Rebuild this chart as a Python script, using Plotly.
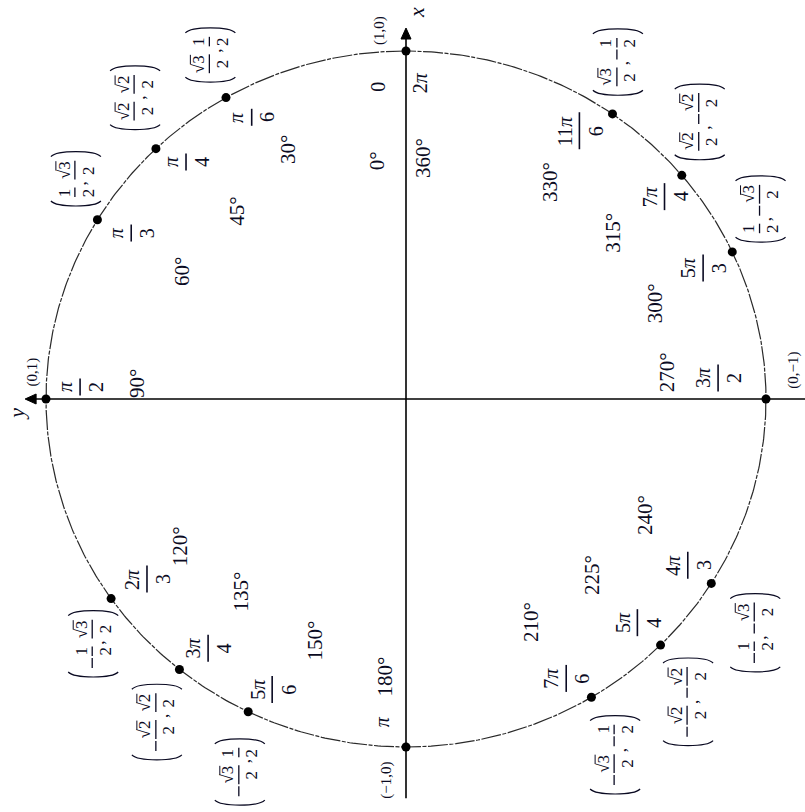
import math
import plotly.graph_objects as go

# ---------------- data ----------------
degrees = [0, 30, 45, 60, 90, 120, 135, 150, 180, 210, 225, 240, 270, 300, 315, 330]
# angle (deg) at which each point is actually drawn in the reference figure
drawn_angles = [0, 30, 44, 59, 90, 125, 141, 154, 180, 211, 225, 238, 270, 295, 310, 325]
radian_num = ["0", "π", "π", "π", "π", "2π", "3π", "5π", "π", "7π", "5π", "4π", "3π", "5π", "7π", "11π"]
radian_den = ["", "6", "4", "3", "2", "3", "4", "6", "", "6", "4", "3", "2", "3", "4", "6"]
cos_vals = ["1", "√3/2", "√2/2", "1/2", "0", "−1/2", "−√2/2", "−√3/2",
            "−1", "−√3/2", "−√2/2", "−1/2", "0", "1/2", "√2/2", "√3/2"]
sin_vals = ["0", "1/2", "√2/2", "√3/2", "1", "√3/2", "√2/2", "1/2",
            "0", "−1/2", "−√2/2", "−√3/2", "−1", "−√3/2", "−√2/2", "−1/2"]
full_turn_radian = "2π"
full_turn_degree = "360°"
axis_names = ["x", "y"]

# ---------------- layout / style ----------------
# label placement (radius, angle in deg) relative to the circle
RAD_PLACE = [(0.90, 5), (0.916, 27.9), (0.915, 41.9), (0.90, 58), (0.906, 87.8), (0.886, 125.7),
             (0.903, 142.5), (0.914, 156), (0.93, 175.8), (0.918, 209), (0.909, 225), (0.917, 238.6),
             (0.869, 274), (0.907, 294.5), (0.924, 309), (0.909, 328)]
RAD_FULL_PLACE = (0.909, -2.5)
DEG_PLACE = [(0.69, 6.5), (0.787, 24.6), (0.714, 41.1), (0.723, 59.4), (0.749, 86.5), (0.758, 124),
             (0.72, 140.2), (0.738, 160), (0.80, 175.8), (0.729, 208.4), (0.723, 225.6), (0.743, 243.4),
             (0.731, 276), (0.744, 291.7), (0.747, 309.7), (0.741, 327.3)]
DEG_FULL_PLACE = (0.694, -3.9)
COORD_PLACE = [(1.063, 3.9), (1.128, 28.8), (1.147, 41), (1.114, 55.4), (1.04, 85.7), (1.118, 129),
               (1.158, 143.3), (1.167, 156.7), (1.096, 177.2), (1.176, 209.6), (1.171, 222), (1.18, 235.3),
               (1.08, 274.4), (1.126, 299), (1.14, 314.3), (1.133, 328.7)]
AXIS_TOP, AXIS_BOTTOM, AXIS_LEFT, AXIS_RIGHT = 1.066, -1.147, -1.058, 1.12

W, H = 805, 812
CX, CY, RX, RY = 406, 399, 360, 348   # pixel centre and radii of the circle
FONT = "Liberation Serif"
INK = "#0a0a22"

annotations = []
shapes = []


def polar(r, a):
    t = math.radians(a)
    return -r * math.sin(t), r * math.cos(t)


def text(x, y, s, size, u=0, v=0, italic=False):
    if italic:
        s = "<i>" + s + "</i>"
    annotations.append(dict(x=x, y=y, xref="x", yref="y", text=s, showarrow=False,
                            textangle=-90, xanchor="center", yanchor="middle",
                            xshift=v, yshift=u, borderpad=0,
                            font=dict(family=FONT, size=size, color=INK)))


def bar(x, y, u, v, length, width=1.3):
    shapes.append(dict(type="line", xref="x", yref="y", xsizemode="pixel", ysizemode="pixel",
                       xanchor=x, yanchor=y, x0=v, x1=v, y0=u - length / 2, y1=u + length / 2,
                       line=dict(color=INK, width=width)))


def paren(x, y, u_tip, direction, v0=-25, v1=25, depth=5):
    # direction=-1: opening paren (bulges down); +1: closing paren (bulges up)
    e = u_tip - direction * depth
    m = u_tip - direction * depth / 3.0
    vm = (v0 + v1) / 2
    p = (f"M {v0},{e} C {vm + (v0 - vm) * 0.75},{m + direction * depth * 0.66} "
         f"{vm + (v1 - vm) * 0.75},{m + direction * depth * 0.66} {v1},{e}")
    shapes.append(dict(type="path", xref="x", yref="y", xsizemode="pixel", ysizemode="pixel",
                       xanchor=x, yanchor=y, path=p, line=dict(color=INK, width=1.2)))


EMW = {"√": 0.55, "π": 0.55, "−": 0.56, ",": 0.25, "(": 0.33, ")": 0.33}


def tw(s, f):
    return sum(EMW.get(c, 0.5) for c in s) * f


def pi_html(s):
    return s.replace("π", "<i>π</i>")


def radian_label(x, y, num, den, f=20):
    if den == "":
        text(x, y, pi_html(num), f)
        return
    L = max(tw(num, f), tw(den, f)) + 6
    text(x, y, pi_html(num), f, v=-15)
    text(x, y, den, f, v=16)
    bar(x, y, 0, 0, L, width=1.6)


def parse(s):
    neg = s.startswith("−")
    b = s[1:] if neg else s
    if "/" in b:
        n, d = b.split("/")
    else:
        n, d = b, None
    return neg, n, d


def coord_label(x, y, cs, sn, f=17):
    if "/" not in cs and "/" not in sn:
        text(x, y, f"({cs},{sn})", 15)
        return
    seq = [("lp", 8)]
    for i, s in enumerate((cs, sn)):
        neg, n, d = parse(s)
        if neg:
            seq.append(("minus", 12))
        if d is None:
            seq.append(("int", n, tw(n, f) + 3))
        else:
            seq.append(("frac", n, d, max(tw(n, f), tw(d, f)) + 3))
        if i == 0:
            seq.append(("comma", 6))
    seq.append(("rp", 8))
    L = sum(it[-1] for it in seq)
    u = -L / 2
    for it in seq:
        w = it[-1]
        c = u + w / 2
        k = it[0]
        if k == "lp":
            paren(x, y, u, -1)
        elif k == "rp":
            paren(x, y, u + w, 1)
        elif k == "minus":
            bar(x, y, c, -1, 10, width=1.3)
        elif k == "comma":
            text(x, y, ",", f, u=c, v=5)
        elif k == "int":
            text(x, y, it[1], f, u=c, v=-1)
        elif k == "frac":
            text(x, y, it[1], f, u=c, v=-12)
            text(x, y, it[2], f, u=c, v=12)
            bar(x, y, c, -1, w - 2, width=1.3)
            if it[1].startswith("√"):
                # vinculum over the radicand
                nw = tw(it[1], f)
                u0 = c - nw / 2 + 0.5 * f
                u1 = c + nw / 2
                shapes.append(dict(type="line", xref="x", yref="y", xsizemode="pixel",
                                   ysizemode="pixel", xanchor=x, yanchor=y,
                                   x0=-20, x1=-20, y0=u0, y1=u1,
                                   line=dict(color=INK, width=1)))
        u += w


# ---------------- build ----------------
for i in range(len(degrees)):
    rx, ry = polar(*RAD_PLACE[i])
    radian_label(rx, ry, radian_num[i], radian_den[i])
    dx, dy = polar(*DEG_PLACE[i])
    text(dx, dy, f"{degrees[i]}°", 21)
    cx, cy = polar(*COORD_PLACE[i])
    coord_label(cx, cy, cos_vals[i], sin_vals[i])

fx, fy = polar(*RAD_FULL_PLACE)
radian_label(fx, fy, full_turn_radian, "")
fx, fy = polar(*DEG_FULL_PLACE)
text(fx, fy, full_turn_degree, 21)

# axis names
ax_x, ax_y = polar(1.11, -1.6)
text(ax_x, ax_y, axis_names[0], 22, italic=True)
ay_x, ay_y = polar(1.085, 92.3)
text(ay_x, ay_y, axis_names[1], 22, italic=True)

# axes
shapes.append(dict(type="line", xref="x", yref="y", x0=0, x1=0, y0=AXIS_BOTTOM, y1=AXIS_TOP - 0.02,
                   line=dict(color="black", width=1.6), layer="below"))
shapes.append(dict(type="line", xref="x", yref="y", x0=AXIS_LEFT + 0.02, x1=AXIS_RIGHT, y0=0, y1=0,
                   line=dict(color="black", width=1.6), layer="below"))
shapes.append(dict(type="path", xref="x", yref="y", xsizemode="pixel", ysizemode="pixel",
                   xanchor=0, yanchor=AXIS_TOP, path="M 0,0 L -5,-11 L 5,-11 Z",
                   fillcolor="black", line=dict(color="black", width=1)))
shapes.append(dict(type="path", xref="x", yref="y", xsizemode="pixel", ysizemode="pixel",
                   xanchor=AXIS_LEFT, yanchor=0, path="M 0,0 L 11,5 L 11,-5 Z",
                   fillcolor="black", line=dict(color="black", width=1)))

fig = go.Figure()
ts = [k * 0.5 for k in range(721)]
fig.add_trace(go.Scatter(x=[-math.sin(math.radians(t)) for t in ts],
                         y=[math.cos(math.radians(t)) for t in ts],
                         mode="lines", hoverinfo="skip",
                         line=dict(color="#2a2a2a", width=1.2, dash="20px,1.5px,4px,1.5px")))
fig.add_trace(go.Scatter(x=[-math.sin(math.radians(a)) for a in drawn_angles],
                         y=[math.cos(math.radians(a)) for a in drawn_angles],
                         mode="markers", hoverinfo="skip",
                         marker=dict(size=9, color="black")))

fig.update_layout(
    width=W, height=H, autosize=False,
    margin=dict(l=0, r=0, t=0, b=0, pad=0),
    paper_bgcolor="white", plot_bgcolor="white",
    showlegend=False,
    xaxis=dict(range=[-CX / RX, (W - CX) / RX], visible=False, fixedrange=True),
    yaxis=dict(range=[(CY - H) / RY, CY / RY], visible=False, fixedrange=True),
    annotations=annotations, shapes=shapes,
)

fig.write_html("out.html", config={"displayModeBar": False},
               post_script="document.body.style.margin='0px';")
